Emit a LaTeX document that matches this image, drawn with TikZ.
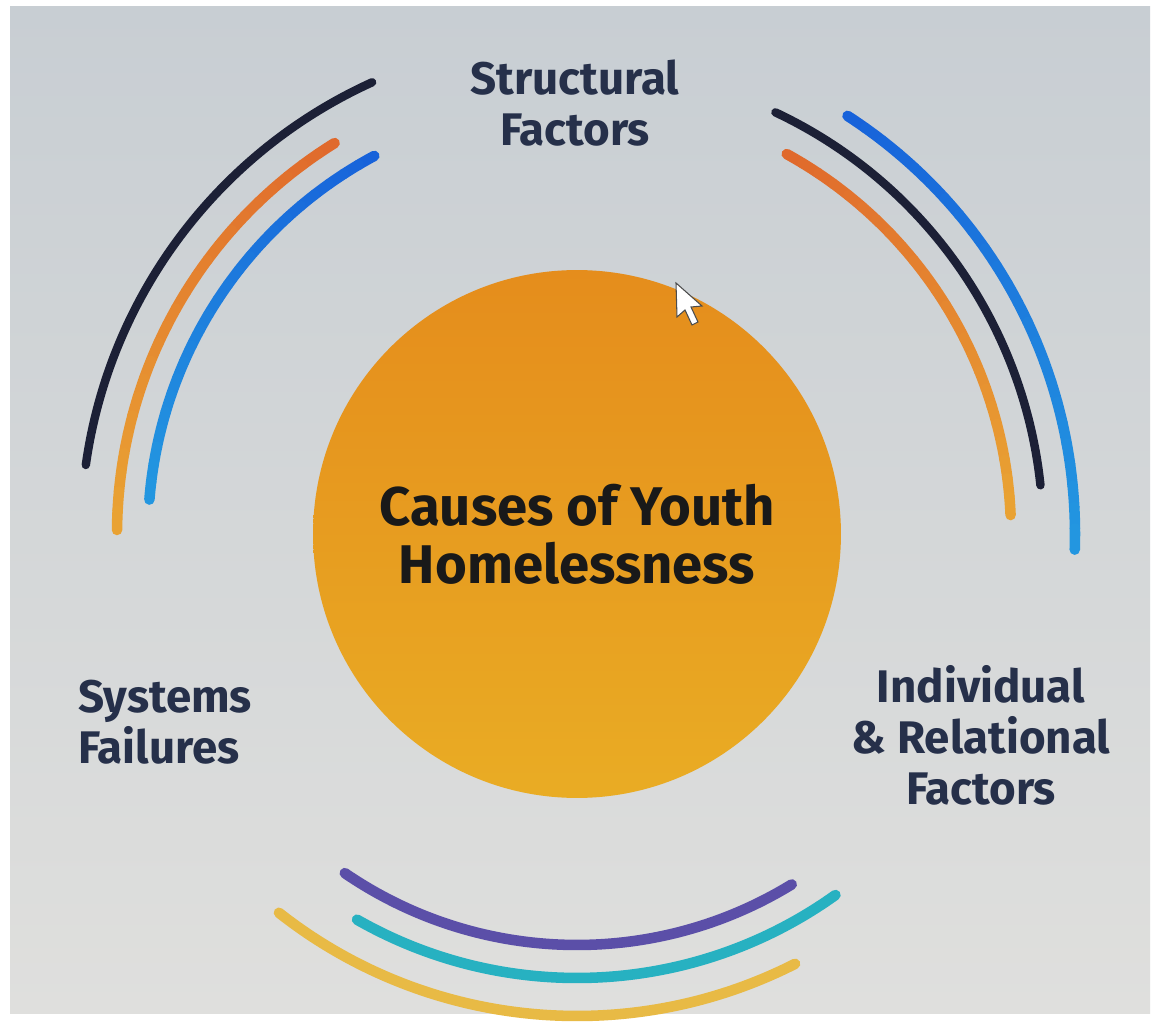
\documentclass[tikz,border=0pt]{standalone}
\usepackage{fontspec}
\setmainfont{Fira Sans}
\usepackage{tikz}

% arc with a colour that runs from #4 (start) to #5 (end)
\newcommand{\fadearc}[5]{%
  \foreach \k in {0,...,23}{
    \pgfmathtruncatemacro{\pct}{100-\k*100/23}
    \pgfmathsetmacro{\aa}{#2+(#3-#2)*\k/24}
    \pgfmathsetmacro{\ab}{#2+(#3-#2)*(\k+1)/24}
    \draw[band, #4!\pct!#5] (hub.center) ++(\aa:#1) arc[start angle=\aa, end angle=\ab, radius=#1];
  }}

\begin{document}
\begin{tikzpicture}
  [x=0.02cm, y=0.02cm]

    \definecolor{ink}{HTML}{26304A}
    \definecolor{navy}{HTML}{1C2036}
    \definecolor{rust}{HTML}{E0692C}
    \definecolor{amber}{HTML}{E9A233}
    \definecolor{royal}{HTML}{1762DA}
    \definecolor{sky}{HTML}{2396E0}
    \definecolor{violet}{HTML}{5B4FA8}
    \definecolor{teal}{HTML}{27B1C1}
    \definecolor{mustard}{HTML}{E8BA45}
    \definecolor{sunTop}{HTML}{E58D1C}
    \definecolor{sunBot}{HTML}{E9AC24}
    \definecolor{screenTop}{HTML}{C8CED3}
    \definecolor{screenBot}{HTML}{DFDFDD}

  \tikzset{
    band/.style={line width=6pt, line cap=round},
    thinband/.style={band, line width=4.8pt},
    hubnode/.style={
      circle, minimum size=10.56cm, inner sep=0pt,
      top color=sunTop, bottom color=sunBot,
      align=center, font=\fontsize{31}{33}\selectfont\bfseries,
      text=black!90,
    },
    factor/.style={
      text=ink, font=\fontsize{26}{29}\selectfont\bfseries,
    },
  }

  \useasboundingbox (0,0) rectangle (1156,1022);
  \fill[white] (0,0) rectangle (1156,1022);
  \shade[top color=screenTop, bottom color=screenBot] (10,9) rectangle (1150,1015);

  \node[hubnode] (hub) at (577,488) {Causes of Youth\\Homelessness};

  \node[factor, align=center] (structural) at (575,919) {Structural\\Factors};
  \node[factor, align=left, anchor=west] (systems) at (72,300) {Systems\\Failures};
  \node[factor, align=center] (individual) at (981,287) {Individual\\\& Relational\\Factors};

  % structural factors
  \draw[thinband, navy] (hub.center) ++(114.4:496) arc[start angle=114.4, end angle=172, radius=496];
  \fadearc{460}{121.8}{179.5}{rust}{amber}
  \fadearc{429}{118.2}{175.4}{royal}{sky}

  % individual & relational factors
  \draw[thinband, navy] (hub.center) ++(64.8:466) arc[start angle=64.8, end angle=6, radius=466];
  \fadearc{498}{57.1}{-1.8}{royal}{sky}
  \fadearc{434}{61.1}{2.5}{rust}{amber}

  % systems failures
  \draw[band, violet] (hub.center) ++(-124.4:411) arc[start angle=-124.4, end angle=-58.5, radius=411];
  \draw[band, teal] (hub.center) ++(-119.7:444) arc[start angle=-119.7, end angle=-54.4, radius=444];
  \draw[band, mustard] (hub.center) ++(-128.2:482) arc[start angle=-128.2, end angle=-63.1, radius=482];

  % pointer
  \filldraw[fill=white, draw=black!70, line width=0.6pt]
    (676,739) -- (677,705) -- (685,712) -- (692,697) -- (698,700)
    -- (691,715) -- (702,716) -- cycle;
\end{tikzpicture}
\end{document}
